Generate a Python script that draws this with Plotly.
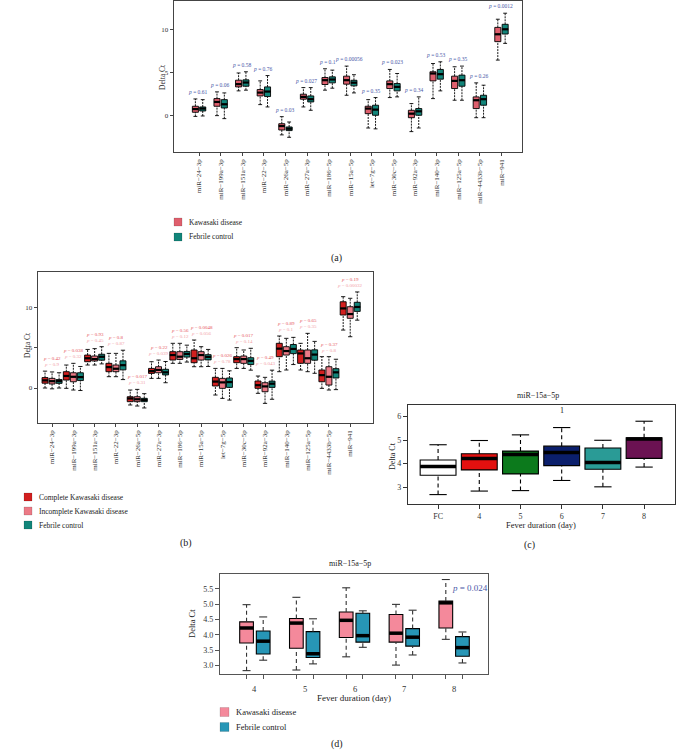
import plotly.graph_objects as go

W, H = 676, 752
SERIF = "Liberation Serif"

# ---------------- data ----------------
mirnas = ["miR−24−3p", "miR−199a−3p", "miR−151a−3p", "miR−22−3p", "miR−26a−5p",
          "miR−27a−3p", "miR−186−5p", "miR−15a−5p", "let−7g−5p", "miR−30c−5p",
          "miR−92a−3p", "miR−140−3p", "miR−125a−5p", "miR−4433b−5p", "miR−941"]

# panel (a): Kawasaki disease vs febrile control
a_kd_lo = [-0.05, 0.04, 2.92, 1.32, -2.2, 1.05, 3.0, 2.41, -1.4, 2.14, -1.82, 2.02, 1.83, -0.2, 6.5]
a_kd_q1 = [0.43, 1.13, 3.38, 2.33, -1.63, 1.95, 3.66, 3.7, 0.27, 3.19, -0.2, 4.08, 3.19, 0.86, 8.64]
a_kd_md = [0.8, 1.63, 3.7, 2.72, -1.17, 2.22, 4.16, 4.16, 0.86, 3.7, 0.27, 4.94, 4.08, 1.83, 9.5]
a_kd_q3 = [1.13, 2.02, 4.16, 3.07, -0.9, 2.53, 4.47, 4.63, 1.13, 4.08, 0.66, 5.14, 4.63, 2.22, 10.3]
a_kd_hi = [1.98, 2.8, 5.0, 4.08, -0.08, 3.3, 5.49, 5.8, 1.9, 5.41, 1.44, 6.1, 5.72, 3.85, 11.25]

fc_lo = [0.0, -0.31, 3.0, 1.05, -2.48, 0.66, 3.23, 2.68, -1.5, 2.22, -1.4, 2.92, 1.83, -0.2, 8.44]
fc_q1 = [0.58, 0.93, 3.46, 2.26, -1.7, 1.63, 3.85, 3.5, 0.08, 2.92, 0.08, 4.28, 3.46, 1.25, 9.53]
fc_md = [0.86, 1.36, 3.89, 2.84, -1.48, 1.95, 4.24, 3.87, 0.74, 3.38, 0.54, 4.86, 4.16, 1.95, 10.08]
fc_q3 = [1.05, 1.9, 4.2, 3.38, -1.28, 2.33, 4.55, 4.15, 1.25, 3.77, 0.86, 5.41, 4.75, 2.41, 10.66]
fc_hi = [1.9, 2.68, 5.14, 4.7, -0.7, 3.3, 5.33, 4.8, 2.14, 4.94, 2.22, 6.3, 5.8, 3.58, 11.95]

a_p = ["0.61", "0.06", "0.58", "0.76", "0.03", "0.027", "0.1", "0.00056", "0.35",
       "0.023", "0.34", "0.53", "0.35", "0.26", "0.0012"]

# panel (b): complete KD, incomplete KD, febrile control
b_ckd_lo = [0.0, -0.04, 2.86, 1.41, -2.11, 1.2, 3.07, 2.65, -0.87, 2.44, -0.66, 2.03, 2.24, -0.04, 7.21]
b_ckd_q1 = [0.6, 0.99, 3.27, 2.03, -1.7, 1.82, 3.48, 3.15, 0.25, 3.15, -0.04, 3.9, 3.07, 0.78, 9.08]
b_ckd_md = [0.95, 1.5, 3.7, 2.6, -1.3, 2.1, 4.1, 3.7, 0.8, 3.6, 0.35, 4.9, 4.3, 1.6, 9.9]
b_ckd_q3 = [1.3, 2.03, 4.1, 3.07, -1.08, 2.44, 4.52, 4.73, 1.33, 3.9, 0.87, 5.56, 4.73, 2.24, 10.73]
b_ckd_hi = [2.1, 2.86, 4.8, 4.31, -0.25, 3.27, 5.56, 5.97, 2.44, 5.02, 1.49, 6.47, 5.56, 3.9, 11.36]

b_ikd_lo = [-0.1, -0.25, 2.86, 1.41, -2.24, 1.2, 3.07, 2.65, -1.29, 2.44, -1.91, 2.24, 2.03, -0.25, 6.38]
b_ikd_q1 = [0.5, 0.78, 3.36, 2.03, -1.7, 1.9, 3.56, 3.48, -0.04, 3.07, -0.46, 4.1, 3.07, 0.37, 8.67]
b_ikd_md = [0.85, 1.4, 3.6, 2.4, -1.4, 2.25, 3.9, 4.1, 0.7, 3.6, 0.2, 4.6, 3.7, 1.4, 9.2]
b_ikd_q3 = [1.2, 1.9, 3.98, 2.86, -1.08, 2.65, 4.52, 4.52, 1.2, 3.98, 0.66, 5.14, 4.73, 2.65, 10.11]
b_ikd_hi = [2.0, 3.07, 4.9, 4.31, -0.17, 3.48, 5.56, 5.14, 2.44, 4.73, 1.33, 6.18, 6.8, 3.9, 11.16]

b_p_ckd = ["0.42", "0.038", "0.93", "0.8", "0.017", "0.22", "0.56", "0.0048", "0.026",
           "0.017", "0.49", "0.89", "0.65", "0.37", "0.19"]
b_p_ikd = ["0.9", "0.32", "0.45", "0.87", "0.31", "0.039", "0.12", "0.056", "0.78",
           "0.14", "0.043", "0.1", "0.35", "0.8", "0.00032"]

# panels (c)/(d): miR-15a-5p by fever duration
days = ["4", "5", "6", "7", "8"]
kd_day_lo = [2.83, 2.85, 3.28, 3.01, 3.85]
kd_day_q1 = [3.73, 3.56, 3.91, 3.76, 4.22]
kd_day_md = [4.22, 4.38, 4.47, 4.05, 5.04]
kd_day_q3 = [4.42, 4.53, 4.74, 4.66, 5.1]
kd_day_hi = [4.98, 5.22, 5.53, 4.99, 5.8]

fc_day_lo = [3.17, 3.05, 3.59, 3.34, 3.08]
fc_day_q1 = [3.37, 3.26, 3.76, 3.63, 3.30]
fc_day_md = [3.79, 3.38, 3.97, 3.92, 3.58]
fc_day_q3 = [4.12, 4.10, 4.70, 4.20, 3.94]
fc_day_hi = [4.58, 4.52, 4.78, 4.80, 4.09]

d_p = "0.024"
MIR15 = mirnas.index("miR−15a−5p")

# ---------------- helpers ----------------
fig = go.Figure()


def add_boxes(xs, lo, q1, md, q3, hi, color, width, cap, xa, ya,
              lw=1.0, medw=2.0, dash="2px,1px", wcol="black"):
    wx, wy, cx, cy, mx, my = [], [], [], [], [], []
    for x, l, a, m, b, h in zip(xs, lo, q1, md, q3, hi):
        wx += [x, x, None, x, x, None]
        wy += [l, a, None, b, h, None]
        cx += [x - cap / 2, x + cap / 2, None, x - cap / 2, x + cap / 2, None]
        cy += [l, l, None, h, h, None]
        mx += [x - width / 2, x + width / 2, None]
        my += [m, m, None]
    common = dict(xaxis=xa, yaxis=ya, showlegend=False, hoverinfo="skip")
    fig.add_trace(go.Scatter(x=wx, y=wy, mode="lines",
                             line=dict(color=wcol, width=lw, dash=dash), **common))
    fig.add_trace(go.Scatter(x=cx, y=cy, mode="lines",
                             line=dict(color=wcol, width=lw), **common))
    fig.add_trace(go.Box(x=xs, q1=q1, median=md, q3=q3, lowerfence=q1, upperfence=q3,
                         width=width, whiskerwidth=0, fillcolor=color, boxpoints=False,
                         line=dict(color="black", width=lw), **common))
    fig.add_trace(go.Scatter(x=mx, y=my, mode="lines",
                             line=dict(color="black", width=medw), **common))


def dom_x(l, r):
    return [l / W, r / W]


def dom_y(t, b):
    return [1 - b / H, 1 - t / H]


ann = []


def text(x, y, s, size, color="#222", xref="paper", yref="paper", xanchor="center",
         yanchor="middle", angle=0, yshift=0, xshift=0):
    ann.append(dict(x=x, y=y, text=s, xref=xref, yref=yref, showarrow=False,
                    xanchor=xanchor, yanchor=yanchor, textangle=angle,
                    yshift=yshift, xshift=xshift,
                    font=dict(family=SERIF, size=size, color=color)))


def ptxt(x, y, s, size, color="#222", **kw):
    text(x / W, 1 - y / H, s, size, color, **kw)


shapes = []


def legend_sq(x, y, color, size=8):
    shapes.append(dict(type="rect", xref="paper", yref="paper",
                       x0=x / W, x1=(x + size) / W, y0=1 - (y + size / 2) / H,
                       y1=1 - (y - size / 2) / H, fillcolor=color,
                       line=dict(color="rgba(0,0,0,0.25)", width=0.5)))


# colours
KD_A, FC_A = "#df5f6d", "#12857a"
CKD, IKD = "#d21f1f", "#ec7a86"
PBLUE = "#4a58a8"

# ---------------- panel (a) ----------------
n = len(mirnas)
add_boxes([i - 0.17 for i in range(n)], a_kd_lo, a_kd_q1, a_kd_md, a_kd_q3, a_kd_hi,
          KD_A, 0.28, 0.18, "x", "y", lw=0.9, medw=2.2)
add_boxes([i + 0.17 for i in range(n)], fc_lo, fc_q1, fc_md, fc_q3, fc_hi,
          FC_A, 0.28, 0.18, "x", "y", lw=0.9, medw=2.2)
for i in range(n):
    text(i - 0.05, max(a_kd_hi[i], fc_hi[i]), "<i>p</i> = " + a_p[i], 5.5, PBLUE,
         xref="x", yref="y", yanchor="bottom", yshift=2)

# ---------------- panel (b) ----------------
add_boxes([i - 0.33 for i in range(n)], b_ckd_lo, b_ckd_q1, b_ckd_md, b_ckd_q3, b_ckd_hi,
          CKD, 0.28, 0.2, "x2", "y2", lw=0.9, medw=2.2)
add_boxes([i for i in range(n)], b_ikd_lo, b_ikd_q1, b_ikd_md, b_ikd_q3, b_ikd_hi,
          IKD, 0.28, 0.2, "x2", "y2", lw=0.9, medw=2.2)
add_boxes([i + 0.33 for i in range(n)], fc_lo, fc_q1, fc_md, fc_q3, fc_hi,
          FC_A, 0.28, 0.2, "x2", "y2", lw=0.9, medw=2.2)
for i in range(n):
    top = max(b_ckd_hi[i], b_ikd_hi[i], fc_hi[i])
    text(i, top, "<i>p</i> = " + b_p_ikd[i], 5, "#f2a0a6", xref="x2", yref="y2",
         yanchor="bottom", yshift=2)
    text(i, top, "<i>p</i> = " + b_p_ckd[i], 5, "#e6545a", xref="x2", yref="y2",
         yanchor="bottom", yshift=8)

# ---------------- panel (c) ----------------
c_cats = ["FC"] + days
c_lo = [fc_lo[MIR15]] + kd_day_lo
c_q1 = [fc_q1[MIR15]] + kd_day_q1
c_md = [fc_md[MIR15]] + kd_day_md
c_q3 = [fc_q3[MIR15]] + kd_day_q3
c_hi = [fc_hi[MIR15]] + kd_day_hi
c_cols = ["#ffffff", "#e3100f", "#0c7a1c", "#0b1f6c", "#2a9b96", "#6b1252"]
for i, col in enumerate(c_cols):
    add_boxes([i], [c_lo[i]], [c_q1[i]], [c_md[i]], [c_q3[i]], [c_hi[i]],
              col, 0.87, 0.42, "x3", "y3", lw=1.1, medw=3.5, dash="4px,3px")
text(3, 6.26, "1", 8, xref="x3", yref="y3")

# ---------------- panel (d) ----------------
KD_D, FC_D = "#f4899b", "#2796b6"
nd = len(days)
add_boxes([i - 0.167 for i in range(nd)], kd_day_lo, kd_day_q1, kd_day_md, kd_day_q3,
          kd_day_hi, KD_D, 0.275, 0.16, "x4", "y4", lw=1.1, medw=3.5, dash="4px,3px",
          wcol="#333")
add_boxes([i + 0.167 for i in range(nd)], fc_day_lo, fc_day_q1, fc_day_md, fc_day_q3,
          fc_day_hi, FC_D, 0.275, 0.16, "x4", "y4", lw=1.1, medw=3.5, dash="4px,3px",
          wcol="#333")
text(3.92, 5.54, "<i>p</i> = " + d_p, 9, PBLUE, xref="x4", yref="y4", xanchor="left")
for i, d in enumerate(days):
    text(i, 0, d, 8.5, "#333", xref="x4", yref="y4 domain", yanchor="top", yshift=-8)

# ---------------- text: titles, legends, panel labels ----------------
# (a)
ptxt(163, 77, "Delta Ct", 7.5, angle=-90)
legend_sq(174, 222, KD_A)
ptxt(187, 222, "Kawasaki disease", 7.5, xanchor="left")
legend_sq(174, 237, FC_A)
ptxt(187, 237, "Febrile control", 7.5, xanchor="left")
ptxt(336, 258, "(a)", 10)
# (b)
ptxt(28, 345, "Delta Ct", 7.5, angle=-90)
legend_sq(24, 497, CKD)
ptxt(37, 497, "Complete Kawasaki disease", 7.5, xanchor="left")
legend_sq(24, 511, IKD)
ptxt(37, 511, "Incomplete Kawasaki disease", 7.5, xanchor="left")
legend_sq(24, 525, FC_A)
ptxt(37, 525, "Febrile control", 7.5, xanchor="left")
ptxt(186, 543, "(b)", 10)
# (c)
ptxt(538, 395, "miR−15a−5p", 8)
ptxt(392, 456, "Delta Ct", 8, angle=-90)
ptxt(541, 525, "Fever duration (day)", 8.5)
ptxt(529, 545, "(c)", 10)
# (d)
ptxt(350, 563, "miR−15a−5p", 8)
ptxt(192, 624, "Delta Ct", 8.5, angle=-90)
ptxt(354, 698, "Fever duration (day)", 9)
legend_sq(220, 712, KD_D, 9)
ptxt(234, 712, "Kawasaki disease", 8.5, xanchor="left")
legend_sq(220, 727, FC_D, 9)
ptxt(234, 727, "Febrile control", 8.5, xanchor="left")
ptxt(337, 744, "(d)", 10)

# ---------------- axes ----------------
tf = dict(family=SERIF, size=7, color="#333")
ax_common = dict(showgrid=False, zeroline=False, showline=True, mirror=True,
                 ticks="outside", automargin=False)

fig.update_layout(
    width=W, height=H, margin=dict(l=0, r=0, t=0, b=0),
    paper_bgcolor="white", plot_bgcolor="white", showlegend=False,
    xaxis=dict(domain=dom_x(174, 522), range=[-1.16, 14.95], anchor="y",
               tickvals=list(range(n)), ticktext=mirnas, tickangle=-90,
               ticklen=3, tickfont=tf, linecolor="#444", linewidth=1.4,
               tickcolor="#444", **ax_common),
    yaxis=dict(domain=dom_y(1, 152), range=[-4.19, 13.37], anchor="x",
               tickvals=[0, 5, 10], ticklen=3, tickfont=tf, linecolor="#444",
               linewidth=1.4, tickcolor="#444", **ax_common),
    xaxis2=dict(domain=dom_x(38, 373), range=[-0.66, 15.07], anchor="y2",
                tickvals=list(range(n)), ticktext=mirnas, tickangle=-90,
                ticklen=3, tickfont=tf, linecolor="#444", linewidth=1.4,
                tickcolor="#444", **ax_common),
    yaxis2=dict(domain=dom_y(272, 423), range=[-4.35, 14.43], anchor="x2",
                tickvals=[0, 5, 10], ticklen=3, tickfont=tf, linecolor="#444",
                linewidth=1.4, tickcolor="#444", **ax_common),
    xaxis3=dict(domain=dom_x(408, 675), range=[-0.73, 5.75], anchor="y3",
                tickvals=list(range(len(c_cats))), ticktext=c_cats, ticklen=4,
                tickfont=dict(family=SERIF, size=8, color="#333"),
                linecolor="#333", linewidth=1.2, tickcolor="#333", **ax_common),
    yaxis3=dict(domain=dom_y(405, 504), range=[2.28, 6.49], anchor="x3",
                tickvals=[3, 4, 5, 6], ticklen=4,
                tickfont=dict(family=SERIF, size=8, color="#333"),
                linecolor="#333", linewidth=1.2, tickcolor="#333", **ax_common),
    xaxis4=dict(domain=dom_x(220, 488), range=[-0.70, 4.68], anchor="y4",
                tickvals=[i + s for i in range(nd) for s in (-0.167, 0.167)],
                ticktext=[""] * (2 * nd), ticklen=4,
                linecolor="#555", linewidth=1.2, tickcolor="#555", **ax_common),
    yaxis4=dict(domain=dom_y(574, 674), range=[2.72, 5.98], anchor="x4",
                tickvals=[3.0, 3.5, 4.0, 4.5, 5.0, 5.5], tickformat=".1f", ticklen=4,
                tickfont=dict(family=SERIF, size=8, color="#333"),
                linecolor="#555", linewidth=1.2, tickcolor="#555", **ax_common),
    annotations=ann, shapes=shapes,
)

fig.write_html("out.html", config={"displayModeBar": False, "staticPlot": True},
               post_script="document.body.style.margin='0';"
                           "document.body.style.padding='0';")
